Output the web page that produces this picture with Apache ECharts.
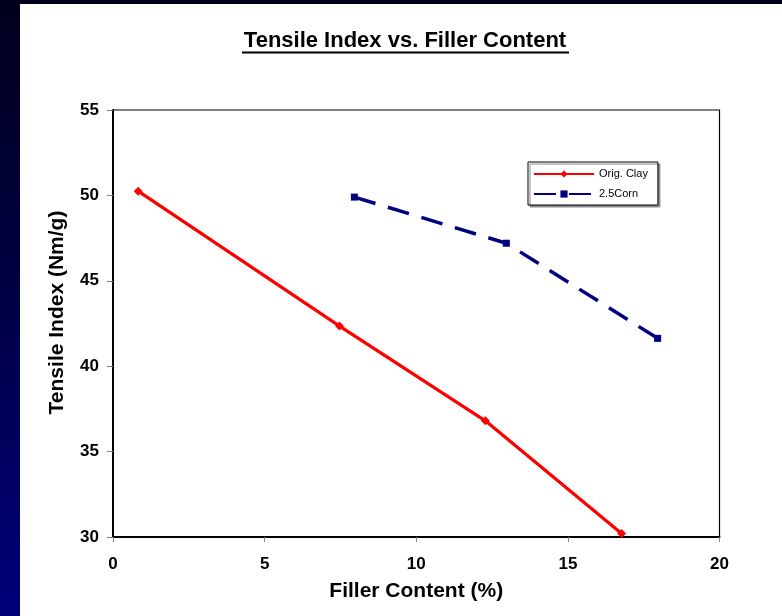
<!DOCTYPE html>
<html>
<head>
<meta charset="utf-8">
<script src="https://cdn.jsdelivr.net/npm/echarts@6/dist/echarts.min.js"></script>
<style>
  html, body { margin: 0; padding: 0; width: 782px; height: 616px; overflow: hidden; }
  body { background: linear-gradient(to bottom, #00001c 0%, #000046 50%, #00007a 100%); position: relative; }
  #chart { position: absolute; left: 20px; top: 4px; width: 762px; height: 612px; background: #ffffff; }
</style>
</head>
<body>
<div id="chart"></div>
<script>
// Tensile index (Nm/g) against filler content (%) for two fillers
const clayFiller = [0.83, 7.47, 12.28, 16.77];
const clayTensile = [50.25, 42.35, 36.8, 30.2];
const cornFiller = [7.96, 12.97, 17.96];
const cornTensile = [49.9, 47.2, 41.63];
const seriesNames = ['Orig. Clay', '2.5Corn'];
const xTicks = [0, 5, 10, 15, 20];
const yTicks = [30, 35, 40, 45, 50, 55];

const chart = echarts.init(document.getElementById('chart'));
const font = 'Arial, "Liberation Sans", sans-serif';

const pairs = (xs, ys) => xs.map((x, i) => [x, ys[i]]);

chart.setOption({
  animation: false,
  backgroundColor: '#ffffff',
  graphic: [
    {
      type: 'text',
      x: 385, y: 26,
      style: {
        text: 'Tensile Index vs. Filler Content',
        font: 'bold 22px ' + font, fill: '#000',
        align: 'center', verticalAlign: 'top'
      }
    },
    {
      type: 'line',
      shape: { x1: 222, y1: 48.5, x2: 549, y2: 48.5 },
      style: { stroke: '#000', lineWidth: 2 }
    }
  ],
  grid: {
    left: 93, top: 106, width: 606.5, height: 427,
    show: true, borderColor: '#000', borderWidth: 1.2, backgroundColor: 'transparent'
  },
  legend: {
    orient: 'vertical',
    left: 508, top: 158,
    padding: [6.5, 10, 5.5, 5],
    itemGap: 9,
    itemWidth: 60, itemHeight: 9,
    borderColor: '#000', borderWidth: 1,
    backgroundColor: '#fff',
    shadowColor: '#8a8a8a', shadowBlur: 0, shadowOffsetX: 2, shadowOffsetY: 2,
    textStyle: { fontFamily: font, fontSize: 11, color: '#000' },
    data: seriesNames
  },
  xAxis: {
    type: 'value',
    min: xTicks[0], max: xTicks[xTicks.length - 1], interval: 5,
    name: 'Filler Content (%)', nameLocation: 'middle', nameGap: 44,
    nameTextStyle: { fontFamily: font, fontSize: 21, fontWeight: 'bold', color: '#000' },
    axisLine: { lineStyle: { color: '#000', width: 2 } },
    axisTick: { show: true, inside: false, length: 5, lineStyle: { color: '#808080', width: 1 } },
    axisLabel: { margin: 19, fontFamily: font, fontSize: 17, fontWeight: 'bold', color: '#000' },
    splitLine: { show: false }
  },
  yAxis: {
    type: 'value',
    min: yTicks[0], max: yTicks[yTicks.length - 1], interval: 5,
    name: 'Tensile Index (Nm/g)', nameLocation: 'middle', nameGap: 45,
    nameTextStyle: {
      fontFamily: font, fontSize: 21, fontWeight: 'bold', color: '#000',
      padding: [0, 0, 0, 22]
    },
    axisLine: { show: true, lineStyle: { color: '#000', width: 2 } },
    axisTick: { show: true, inside: false, length: 6, lineStyle: { color: '#808080', width: 1 } },
    axisLabel: { margin: 14, fontFamily: font, fontSize: 17, fontWeight: 'bold', color: '#000' },
    splitLine: { show: false }
  },
  series: [
    {
      name: seriesNames[0],
      type: 'line',
      data: pairs(clayFiller, clayTensile),
      symbol: 'diamond', symbolSize: 9,
      itemStyle: { color: '#ff0000' },
      lineStyle: { color: '#ff0000', width: 3.2 }
    },
    {
      name: seriesNames[1],
      type: 'line',
      data: pairs(cornFiller, cornTensile),
      symbol: 'rect', symbolSize: 7,
      itemStyle: { color: '#000080' },
      lineStyle: { color: '#000080', width: 3.5, type: [22, 13] }
    }
  ]
});
</script>
</body>
</html>
